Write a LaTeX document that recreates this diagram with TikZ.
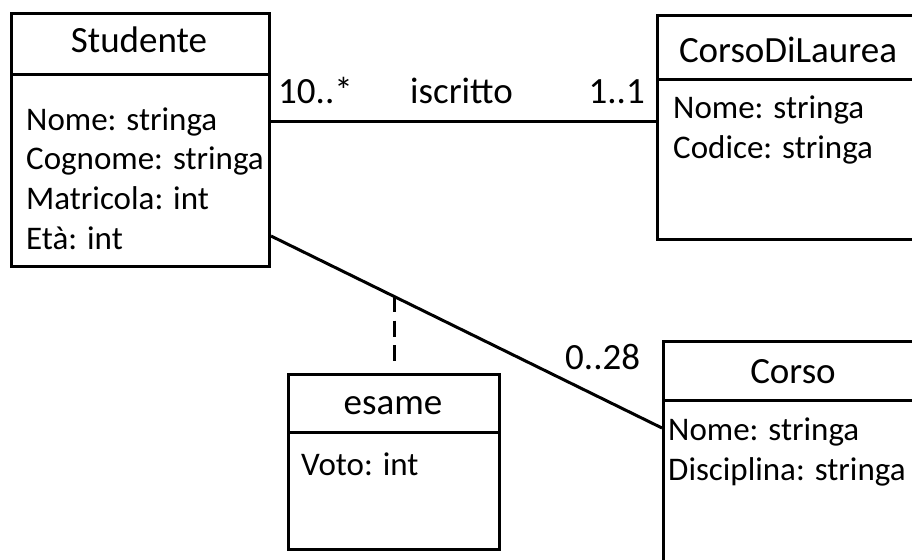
\documentclass[tikz,border=0pt]{standalone}
\usepackage{fontspec}
\setmainfont{Carlito}
\usetikzlibrary{calc}
\begin{document}
\begin{tikzpicture}[x=1pt,y=-1pt,
  box/.style={draw=black,line width=3pt,fill=white,rectangle,inner sep=0pt,anchor=north west},
  divider/.style={line width=3pt},
  txt/.style={inner sep=0pt,font=\fontsize{33}{40}\selectfont},
  bigtxt/.style={inner sep=0pt,font=\fontsize{37}{44}\selectfont},
  attr/.style={txt,anchor=base west},
  title/.style={bigtxt,anchor=base},
  label/.style={bigtxt,anchor=base west},
  conn/.style={line width=3pt},
  link/.style={line width=3pt,dash pattern=on 16pt off 8.5pt}]
\useasboundingbox (0,0) rectangle (912,559);
\clip (0,0) rectangle (912,559);

% boxes
\node[box,minimum width=258pt,minimum height=253pt] (stud) at (10,12) {};
\node[box,minimum width=280pt,minimum height=224pt] (cdl) at (656,14) {};
\node[box,minimum width=280pt,minimum height=240pt] (corso) at (662,340) {};
\node[box,minimum width=211pt,minimum height=175pt] (esame) at (287,373) {};

% connectors
\draw[conn] (stud.east |- 0,122) -- (cdl.west |- 0,122);
\draw[conn] (stud.east |- 0,236) -- (corso.west |- 0,428);
\draw[link] (esame.north |- 0,296) -- (esame.north |- 0,362);

% dividers
\draw[divider] (stud.west |- 0,75) -- (stud.east |- 0,75);
\draw[divider] (cdl.west |- 0,80) -- (cdl.east |- 0,80);
\draw[divider] (corso.west |- 0,400) -- (corso.east |- 0,400);
\draw[divider] (esame.west |- 0,432) -- (esame.east |- 0,432);

% Studente
\node[title] (studT) at (139,53) {Studente};
\node[attr] (s1) at (26,130) {Nome: stringa};
\node[attr] (s2) at (26,169) {Cognome: stringa};
\node[attr] (s3) at (26,209) {Matricola: int};
\node[attr] (s4) at (26,249) {Età: int};

% CorsoDiLaurea
\node[title] (cdlT) at (788,63) {CorsoDiLaurea};
\node[attr] (c1) at (673,119) {Nome: stringa};
\node[attr] (c2) at (673,158) {Codice: stringa};

% Corso
\node[title] (corsoT) at (793,383) {Corso};
\node[attr] (k1) at (668,440) {Nome: stringa};
\node[attr] (k2) at (668,480) {Disciplina: stringa};

% esame
\node[title] (esameT) at (393,414) {esame};
\node[attr] (e1) at (301,475) {Voto: int};

% association labels
\node[label] (m1) at (278,103) {10..*};
\node[label] (lab) at (410,103) {iscritto};
\node[bigtxt,anchor=base east] (m2) at (645,103) {1..1};
\node[label] (m3) at (565,369) {0..28};
\end{tikzpicture}
\end{document}
